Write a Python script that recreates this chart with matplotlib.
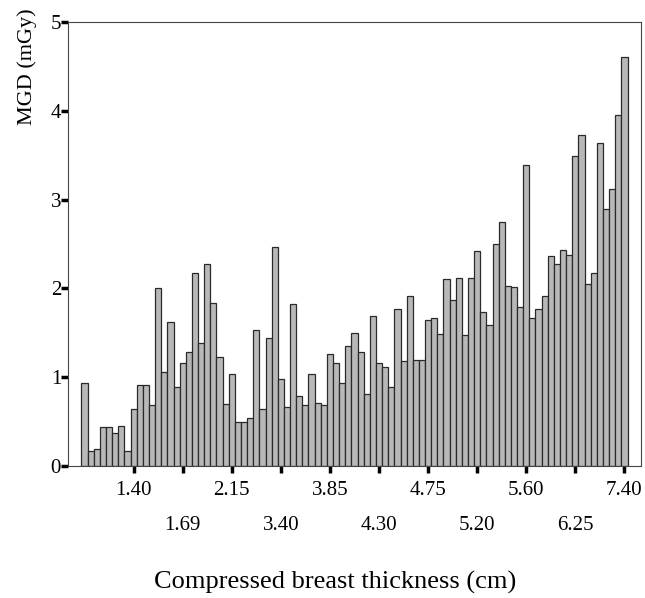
import numpy as np
import matplotlib
matplotlib.use("Agg")
import matplotlib.pyplot as plt

plt.rcParams['font.family'] = ['Liberation Serif', 'DejaVu Serif']

# mean glandular dose per thickness category (mGy), 89 categories
mgd = [0.93, 0.17, 0.19, 0.44, 0.44, 0.37, 0.45, 0.17, 0.64, 0.91,
       0.91, 0.69, 2.01, 1.06, 1.62, 0.89, 1.16, 1.28, 2.17, 1.39,
       2.28, 1.83, 1.23, 0.70, 1.04, 0.50, 0.50, 0.54, 1.53, 0.64,
       1.44, 2.47, 0.98, 0.67, 1.82, 0.79, 0.69, 1.04, 0.71, 0.69,
       1.26, 1.16, 0.94, 1.35, 1.50, 1.28, 0.81, 1.69, 1.16, 1.11,
       0.89, 1.77, 1.18, 1.91, 1.19, 1.19, 1.64, 1.67, 1.49, 2.11,
       1.87, 2.12, 1.48, 2.12, 2.42, 1.73, 1.59, 2.50, 2.75, 2.03,
       2.02, 1.79, 3.39, 1.67, 1.77, 1.91, 2.36, 2.27, 2.43, 2.38,
       3.49, 3.73, 2.05, 2.17, 3.64, 2.89, 3.12, 3.95, 4.61]

tick_idx = [8, 16, 24, 32, 40, 48, 56, 64, 72, 80, 88]
tick_labels = ['1.40', '1.69', '2.15', '3.40', '3.85', '4.30',
               '4.75', '5.20', '5.60', '6.25', '7.40']

fig = plt.figure(figsize=(6.45, 5.98), dpi=100)
ax = fig.add_axes([68 / 645, 1 - 466 / 598, (641 - 68) / 645, (466 - 22) / 598])

x = np.arange(len(mgd))
ax.bar(x, mgd, width=1.0, color='#b8b8b8', edgecolor='#2a2a2a', linewidth=0.9)

ax.set_xlim(-2.7, len(mgd) - 0.5 + 2.2)
ax.set_ylim(0, 5)

ax.set_yticks([0, 1, 2, 3, 4, 5])
ax.tick_params(axis='y', direction='out', length=5, width=2.5, labelsize=15, pad=0)
ax.set_xticks(tick_idx)
ax.set_xticklabels(tick_labels)
ax.tick_params(axis='x', direction='out', length=5, width=2.5, labelsize=15, pad=6)
# staggered labels: every other one on a second row
for i, t in enumerate(ax.xaxis.get_major_ticks()):
    if i % 2 == 1:
        t.set_pad(31)

for s in ax.spines.values():
    s.set_linewidth(0.8)
    s.set_color('#444444')

fig.text(27 / 645, 1 - 67 / 598, 'MGD (mGy)', rotation=90, ha='center', va='center', fontsize=16)
fig.text(335 / 645, 1 - 582 / 598, 'Compressed breast thickness (cm)', ha='center', va='center', fontsize=19)

fig.savefig('out.png', dpi=100)
